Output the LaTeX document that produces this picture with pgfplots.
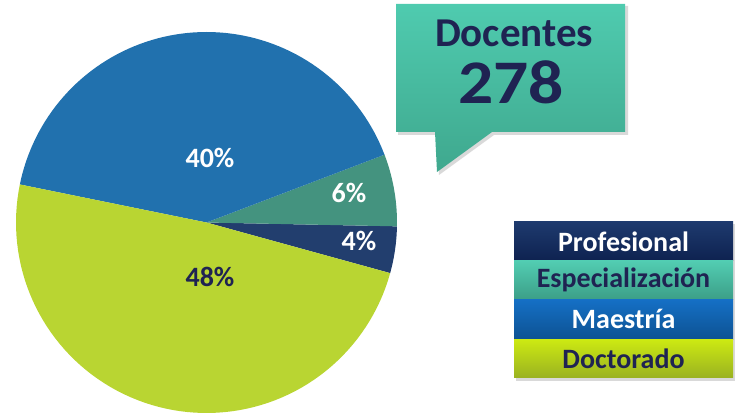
\documentclass[border=0pt]{standalone}
\usepackage{fontspec}
\setmainfont{Carlito}
\usepackage{pgfplots}
\usepackage{pgfplotstable}
\pgfplotsset{compat=1.18}
\definecolor{cprof}{HTML}{223E6E}
\definecolor{cesp}{HTML}{44937F}
\definecolor{cmaes}{HTML}{2171AE}
\definecolor{cdoc}{HTML}{B9D532}
\definecolor{navy}{HTML}{1F2352}
% colores del globo y de la leyenda
\definecolor{boxtop}{HTML}{4FCBAF}
\definecolor{boxbot}{HTML}{3FA88E}
\definecolor{proftop}{HTML}{1E3A6E}
\definecolor{profbot}{HTML}{0E2250}
\definecolor{esptop}{HTML}{52CDB2}
\definecolor{espbot}{HTML}{3C9F88}
\definecolor{maestop}{HTML}{1570C6}
\definecolor{maesbot}{HTML}{0D5293}
\definecolor{doctop}{HTML}{CDEA12}
\definecolor{docbot}{HTML}{9AB221}

% docentes por nivel de formacion (total 278)
\pgfplotstableread{
nivel n
Profesional 11
Especializacion 17
Maestria 114
Doctorado 136
}\docentes

\begin{document}%
\begin{tikzpicture}[x=1pt,y=1pt]
% angulos de cada sector
\pgfmathsetmacro\aS{-15.4}
\pgfplotstablegetelem{0}{n}\of\docentes\pgfmathsetmacro\aA{\aS+(\pgfplotsretval/278)*360}
\pgfplotstablegetelem{1}{n}\of\docentes\pgfmathsetmacro\aB{\aA+(\pgfplotsretval/278)*360}
\pgfplotstablegetelem{2}{n}\of\docentes\pgfmathsetmacro\aC{\aB+(\pgfplotsretval/278)*360}
\pgfplotstablegetelem{3}{n}\of\docentes\pgfmathsetmacro\aD{\aC+(\pgfplotsretval/278)*360}

\begin{axis}[
    hide axis,
    anchor=origin,
    at={(206.5pt,192.5pt)},
    x=190.5pt, y=190.5pt,
    xmin=-1, xmax=1, ymin=-1, ymax=1,
    clip=false,
    data cs=polar,
]
\addplot[fill=cprof, draw=none, domain=\aS:\aA, samples=30] {1} -- (axis cs:0,0) -- cycle;
\addplot[fill=cesp, draw=none, domain=\aA:\aB, samples=30] {1} -- (axis cs:0,0) -- cycle;
\addplot[fill=cmaes, draw=none, domain=\aB:\aC, samples=80] {1} -- (axis cs:0,0) -- cycle;
\addplot[fill=cdoc, draw=none, domain=\aC:\aD, samples=80] {1} -- (axis cs:0,0) -- cycle;
\end{axis}

% porcentajes
\begin{scope}[every node/.style={font=\fontsize{28}{30}\selectfont\bfseries}]
\node[white] at (210,257) {40\%};
\node[white] at (349,222) {6\%};
\node[white] at (359,174) {4\%};
\node[navy] at (210,138) {48\%};
\end{scope}

% globo "Docentes 278"
\fill[black, opacity=0.15] (398,409) -- (628,409) -- (628,280) -- (494,280) -- (439,240) -- (437,280) -- (398,280) -- cycle;
\shade[top color=boxtop, bottom color=boxbot]
  (396,411) -- (625,411) -- (625,283) -- (492,283) -- (437,243) -- (435,283) -- (396,283) -- cycle;
\node[navy, font=\fontsize{41}{44}\selectfont\bfseries] at (514,382) {Docentes};
\node[navy, font=\fontsize{62}{64}\selectfont\bfseries] at (511,333) {\scalebox{1.12}[1]{278}};

% leyenda
\fill[black, opacity=0.15] (516,191) rectangle (736,34.5);
\shade[top color=proftop, bottom color=profbot] (514,193) rectangle (733,154.3);
\shade[top color=esptop, bottom color=espbot] (514,154.3) rectangle (733,116);
\shade[top color=maestop, bottom color=maesbot] (514,116) rectangle (733,76);
\shade[top color=doctop, bottom color=docbot] (514,76) rectangle (733,37.3);
\begin{scope}[every node/.style={font=\fontsize{28}{30}\selectfont\bfseries}]
\node[white] at (623.5,173.6) {Profesional};
\node[navy] at (623.5,135.1) {Especialización};
\node[white] at (623.5,96) {Maestría};
\node[navy] at (623.5,56.6) {Doctorado};
\end{scope}

\pgfresetboundingbox
\useasboundingbox (0,0) rectangle (735,415);
\end{tikzpicture}%
\end{document}
